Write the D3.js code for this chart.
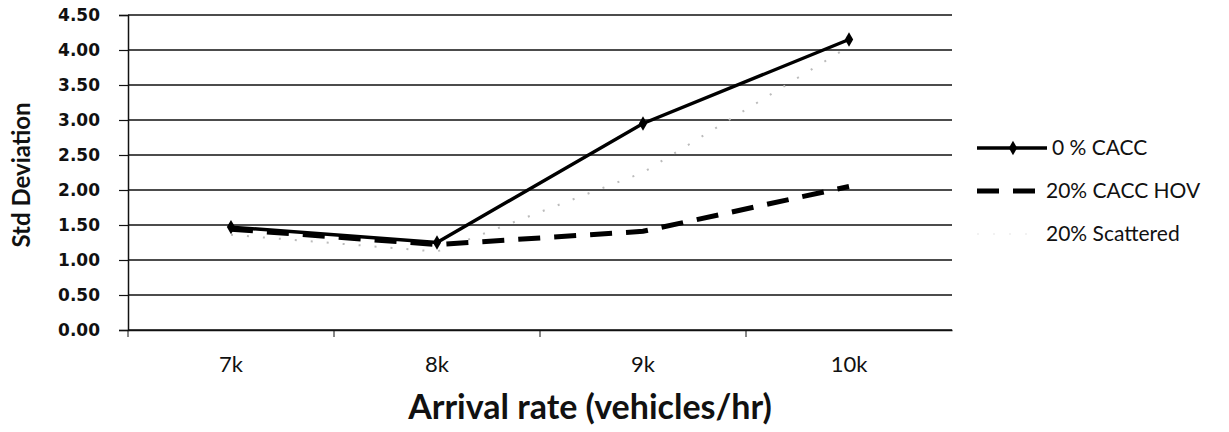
<!DOCTYPE html>
<html>
<head>
<meta charset="utf-8">
<script src="https://cdn.jsdelivr.net/npm/d3@7"></script>
<style>
  body { margin: 0; background: #fff; }
  svg { display: block; }
</style>
</head>
<body>
<svg id="chart" width="1229" height="432"></svg>
<script>
// ── Data ──────────────────────────────────────────────────────────────────────
const categories = ['7k', '8k', '9k', '10k'];
const yTicks = [0, 0.5, 1, 1.5, 2, 2.5, 3, 3.5, 4, 4.5];

const cacc0       = [1.47, 1.25, 2.95, 4.15];   // 0 % CACC
const cacc20Hov   = [1.44, 1.22, 1.41, 2.05];   // 20% CACC HOV
const scattered20 = [1.36, 1.12, 2.25, 4.05];   // 20% Scattered (faint dotted)

const seriesNames = ['0 % CACC', '20% CACC HOV', '20% Scattered'];

// ── Layout ────────────────────────────────────────────────────────────────────
const svg = d3.select('#chart');
const M = { left: 128, right: 952, top: 15, bottom: 330 };

const x = d3.scaleBand().domain(categories).range([M.left, M.right]);
const y = d3.scaleLinear().domain([0, 4.5]).range([M.bottom, M.top]);
const cx = c => x(c) + x.bandwidth() / 2;

// gridlines
svg.append('g')
  .selectAll('line')
  .data(yTicks)
  .enter().append('line')
    .attr('x1', M.left).attr('x2', M.right)
    .attr('y1', d => y(d)).attr('y2', d => y(d))
    .attr('stroke', '#111')
    .attr('stroke-width', 1.5);

// y axis
const yAxis = svg.append('g')
  .attr('transform', `translate(${M.left},0)`)
  .call(d3.axisLeft(y).tickValues(yTicks).tickFormat(d3.format('.2f')).tickSize(9).tickPadding(19));
yAxis.select('.domain').attr('stroke', '#111').attr('stroke-width', 1.5);
yAxis.selectAll('.tick line').attr('stroke', '#111').attr('stroke-width', 1.2);
yAxis.selectAll('text')
  .attr('font-family', 'DejaVu Sans, Verdana, sans-serif')
  .attr('font-weight', 'bold')
  .attr('font-size', 17)
  .attr('fill', '#111');

// x axis (ticks between categories)
const xAxis = svg.append('g')
  .attr('transform', `translate(0,${M.bottom})`)
  .call(d3.axisBottom(x).tickSize(0).tickPadding(26));
xAxis.select('.domain').attr('stroke', '#111').attr('stroke-width', 1.5);
xAxis.selectAll('text')
  .attr('font-family', 'Lato, Open Sans, sans-serif')
  .attr('font-size', 22)
  .attr('fill', '#111');
xAxis.selectAll('.sep')
  .data(categories.slice(1))
  .enter().append('line')
    .attr('class', 'sep')
    .attr('x1', d => x(d)).attr('x2', d => x(d))
    .attr('y1', 0).attr('y2', 7)
    .attr('stroke', '#111');
xAxis.append('line')
  .attr('x1', M.left).attr('x2', M.left).attr('y1', 0).attr('y2', 7)
  .attr('stroke', '#111');

// axis titles
svg.append('text')
  .attr('x', 590).attr('y', 419)
  .attr('text-anchor', 'middle')
  .attr('font-family', 'Lato, sans-serif')
  .attr('font-weight', 'bold')
  .attr('font-size', 34)
  .attr('fill', '#111')
  .text('Arrival rate (vehicles/hr)');

svg.append('text')
  .attr('transform', 'translate(30,175) rotate(-90)')
  .attr('text-anchor', 'middle')
  .attr('font-family', 'Lato, sans-serif')
  .attr('font-weight', 'bold')
  .attr('font-size', 24)
  .attr('fill', '#111')
  .text('Std Deviation');

// ── Lines ─────────────────────────────────────────────────────────────────────
const line = d3.line()
  .x((d, i) => cx(categories[i]))
  .y(d => y(d));

svg.append('path')
  .datum(scattered20)
  .attr('d', line)
  .attr('fill', 'none')
  .attr('stroke', '#bbb')
  .attr('stroke-width', 2)
  .attr('stroke-dasharray', '2 14');

svg.append('path')
  .datum(cacc20Hov)
  .attr('d', line)
  .attr('fill', 'none')
  .attr('stroke', '#000')
  .attr('stroke-width', 5)
  .attr('stroke-dasharray', '22 14');

svg.append('path')
  .datum(cacc0)
  .attr('d', line)
  .attr('fill', 'none')
  .attr('stroke', '#000')
  .attr('stroke-width', 3.4);

const diamond = d3.symbol().type(d3.symbolDiamond).size(60);
svg.append('g')
  .selectAll('path')
  .data(cacc0)
  .enter().append('path')
    .attr('d', diamond)
    .attr('transform', (d, i) => `translate(${cx(categories[i])},${y(d)})`)
    .attr('fill', '#000');

// ── Legend ────────────────────────────────────────────────────────────────────
const legY = [148, 191, 234];
const leg = svg.append('g');
leg.append('line')
  .attr('x1', 977).attr('x2', 1047).attr('y1', legY[0]).attr('y2', legY[0])
  .attr('stroke', '#000').attr('stroke-width', 3.4);
leg.append('path')
  .attr('d', diamond)
  .attr('transform', `translate(1013,${legY[0]})`);
leg.append('line')
  .attr('x1', 977).attr('x2', 1040).attr('y1', legY[1]).attr('y2', legY[1])
  .attr('stroke', '#000').attr('stroke-width', 5)
  .attr('stroke-dasharray', '22 14');
leg.append('line')
  .attr('x1', 977).attr('x2', 1040).attr('y1', legY[2]).attr('y2', legY[2])
  .attr('stroke', '#eee').attr('stroke-width', 1.5)
  .attr('stroke-dasharray', '2 14');

leg.selectAll('text')
  .data(seriesNames)
  .enter().append('text')
    .attr('x', (d, i) => i === 0 ? 1052 : 1046)
    .attr('y', (d, i) => legY[i])
    .attr('dy', '0.35em')
    .attr('font-family', 'Lato, Open Sans, sans-serif')
    .attr('font-size', 21)
    .attr('fill', '#111')
    .text(d => d);
</script>
</body>
</html>
